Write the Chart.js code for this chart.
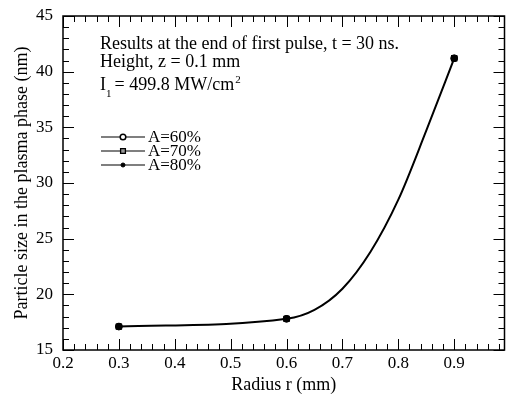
<!DOCTYPE html>
<html>
<head>
<meta charset="utf-8">
<script src="https://cdn.jsdelivr.net/npm/chart.js@4.4.0/dist/chart.umd.min.js"></script>
<style>
  html, body { margin: 0; padding: 0; background: #fff; }
</style>
</head>
<body>
<canvas id="sizeChart" width="510" height="396"></canvas>
<script>
// points at the end of first pulse (the three cases lie on top of each other)
const radius = [0.3, 0.6, 0.9];
const sizeA60 = [17.1, 17.8, 41.2];
const sizeA70 = [17.1, 17.8, 41.2];
const sizeA80 = [17.1, 17.8, 41.2];
const seriesNames = ['A=60%', 'A=70%', 'A=80%'];

// smooth curve through the points
const curveRadius = [0.3, 0.6, 0.65, 0.7, 0.75, 0.8, 0.85, 0.9];
const curveSize = [17.1, 17.8, 18.6, 20.5, 23.8, 28.5, 34.7, 41.2];

const xTicks = [0.2, 0.3, 0.4, 0.5, 0.6, 0.7, 0.8, 0.9];
const yTicks = [15, 20, 25, 30, 35, 40, 45];

const serif = "'Liberation Serif', 'Times New Roman', serif";

function pts(xs, ys) {
    return xs.map((x, i) => ({ x: x, y: ys[i] }));
}

// frame + inward ticks on all four sides
const frameTicks = {
    id: 'frameTicks',
    afterDraw(chart) {
        const { ctx, chartArea: a, scales: { x, y } } = chart;
        ctx.save();
        ctx.strokeStyle = '#000';
        ctx.lineWidth = 1.5;
        ctx.strokeRect(a.left, a.top, a.right - a.left, a.bottom - a.top);
        ctx.lineWidth = 1;
        ctx.beginPath();
        for (let i = 0; 0.2 + i * 0.02 <= x.max + 1e-9; i++) {
            const px = Math.round(x.getPixelForValue(0.2 + i * 0.02)) + 0.5;
            const len = i % 5 === 0 ? 11 : 6;
            ctx.moveTo(px, a.bottom); ctx.lineTo(px, a.bottom - len);
            ctx.moveTo(px, a.top); ctx.lineTo(px, a.top + len);
        }
        for (let v = y.min; v <= y.max; v++) {
            const py = Math.round(y.getPixelForValue(v)) + 0.5;
            const len = v % 5 === 0 ? 11 : 6;
            ctx.moveTo(a.left, py); ctx.lineTo(a.left + len, py);
            ctx.moveTo(a.right, py); ctx.lineTo(a.right - len, py);
        }
        ctx.stroke();
        ctx.restore();
    }
};

// notes and legend inside the plot
const notes = {
    id: 'notes',
    afterDraw(chart) {
        const { ctx, chartArea: a } = chart;
        const x0 = a.left + 37;
        ctx.save();
        ctx.fillStyle = '#000';
        ctx.textBaseline = 'alphabetic';
        ctx.font = '18px ' + serif;
        ctx.fillText('Results at the end of first pulse, t = 30 ns.', x0, a.top + 33);
        ctx.fillText('Height, z = 0.1 mm', x0, a.top + 51);
        ctx.fillText('I', x0, a.top + 74);
        let w = ctx.measureText('I').width;
        ctx.font = '11px ' + serif;
        ctx.fillText('1', x0 + w, a.top + 81);
        ctx.font = '18px ' + serif;
        const main = ' = 499.8 MW/cm';
        ctx.fillText(main, x0 + w + 4, a.top + 74);
        const w2 = ctx.measureText(main).width;
        ctx.font = '11px ' + serif;
        ctx.fillText('2', x0 + w + 4 + w2 + 1, a.top + 67);

        // legend rows
        ctx.font = '17px ' + serif;
        ctx.textBaseline = 'middle';
        const markers = chart.data.datasets.slice(0, 3);
        markers.forEach((ds, i) => {
            const yy = a.top + 121 + i * 14;
            ctx.strokeStyle = '#000';
            ctx.lineWidth = 1.2;
            ctx.beginPath();
            ctx.moveTo(a.left + 38, yy);
            ctx.lineTo(a.left + 82, yy);
            ctx.stroke();
            ctx.fillStyle = ds.pointBackgroundColor;
            ctx.lineWidth = ds.pointBorderWidth;
            Chart.helpers.drawPoint(ctx, {
                pointStyle: ds.pointStyle, radius: ds.legendRadius,
                borderWidth: ds.pointBorderWidth, rotation: 0
            }, a.left + 60, yy);
            ctx.fillStyle = '#000';
            ctx.fillText(seriesNames[i], a.left + 85, yy + 1);
        });
        ctx.restore();
    }
};

document.addEventListener('DOMContentLoaded', function() {
    const ctx = document.getElementById('sizeChart').getContext('2d');
    new Chart(ctx, {
        type: 'line',
        data: {
            datasets: [{
                label: seriesNames[0],
                data: pts(radius, sizeA60),
                order: 2,
                showLine: false,
                pointStyle: 'circle',
                pointRadius: 3,
                legendRadius: 2.8,
                pointBackgroundColor: '#fff',
                pointBorderColor: '#000',
                pointBorderWidth: 1.5
            }, {
                label: seriesNames[1],
                data: pts(radius, sizeA70),
                order: 1,
                showLine: false,
                pointStyle: 'rect',
                pointRadius: 3.6,
                legendRadius: 3.4,
                pointBackgroundColor: '#999',
                pointBorderColor: '#000',
                pointBorderWidth: 1.3
            }, {
                label: seriesNames[2],
                data: pts(radius, sizeA80),
                order: 0,
                showLine: false,
                pointStyle: 'circle',
                pointRadius: 3.2,
                legendRadius: 2,
                pointBackgroundColor: '#000',
                pointBorderColor: '#000',
                pointBorderWidth: 1
            }, {
                label: 'curve',
                data: pts(curveRadius, curveSize),
                order: 3,
                borderColor: '#000',
                borderWidth: 2,
                pointRadius: 0,
                cubicInterpolationMode: 'monotone',
                fill: false
            }]
        },
        options: {
            responsive: false,
            animation: false,
            devicePixelRatio: 1,
            layout: { padding: { top: 16, right: 2, left: 0, bottom: 0 } },
            plugins: {
                legend: { display: false },
                tooltip: { enabled: false }
            },
            scales: {
                x: {
                    type: 'linear',
                    min: 0.2,
                    max: 0.99,
                    afterBuildTicks: s => { s.ticks = xTicks.map(v => ({ value: v })); },
                    afterFit: s => { s.height = 46; },
                    grid: { display: false },
                    border: { display: false },
                    ticks: {
                        color: '#000',
                        padding: -5,
                        maxRotation: 0,
                        autoSkip: false,
                        font: { family: serif, size: 17 },
                        callback: v => v.toFixed(1)
                    },
                    title: {
                        display: true,
                        text: 'Radius r (mm)',
                        color: '#000',
                        font: { family: serif, size: 18 },
                        padding: { top: 0, bottom: 0 }
                    }
                },
                y: {
                    min: 15,
                    max: 45,
                    afterBuildTicks: s => { s.ticks = yTicks.map(v => ({ value: v })); },
                    afterFit: s => { s.width = 63; },
                    grid: { display: false },
                    border: { display: false },
                    ticks: {
                        color: '#000',
                        padding: 2,
                        font: { family: serif, size: 17 }
                    },
                    title: {
                        display: true,
                        text: 'Particle size in the plasma phase (nm)',
                        color: '#000',
                        font: { family: serif, size: 18 },
                        padding: { top: 11, bottom: 0 }
                    }
                }
            }
        },
        plugins: [frameTicks, notes]
    });
});
</script>
</body>
</html>
